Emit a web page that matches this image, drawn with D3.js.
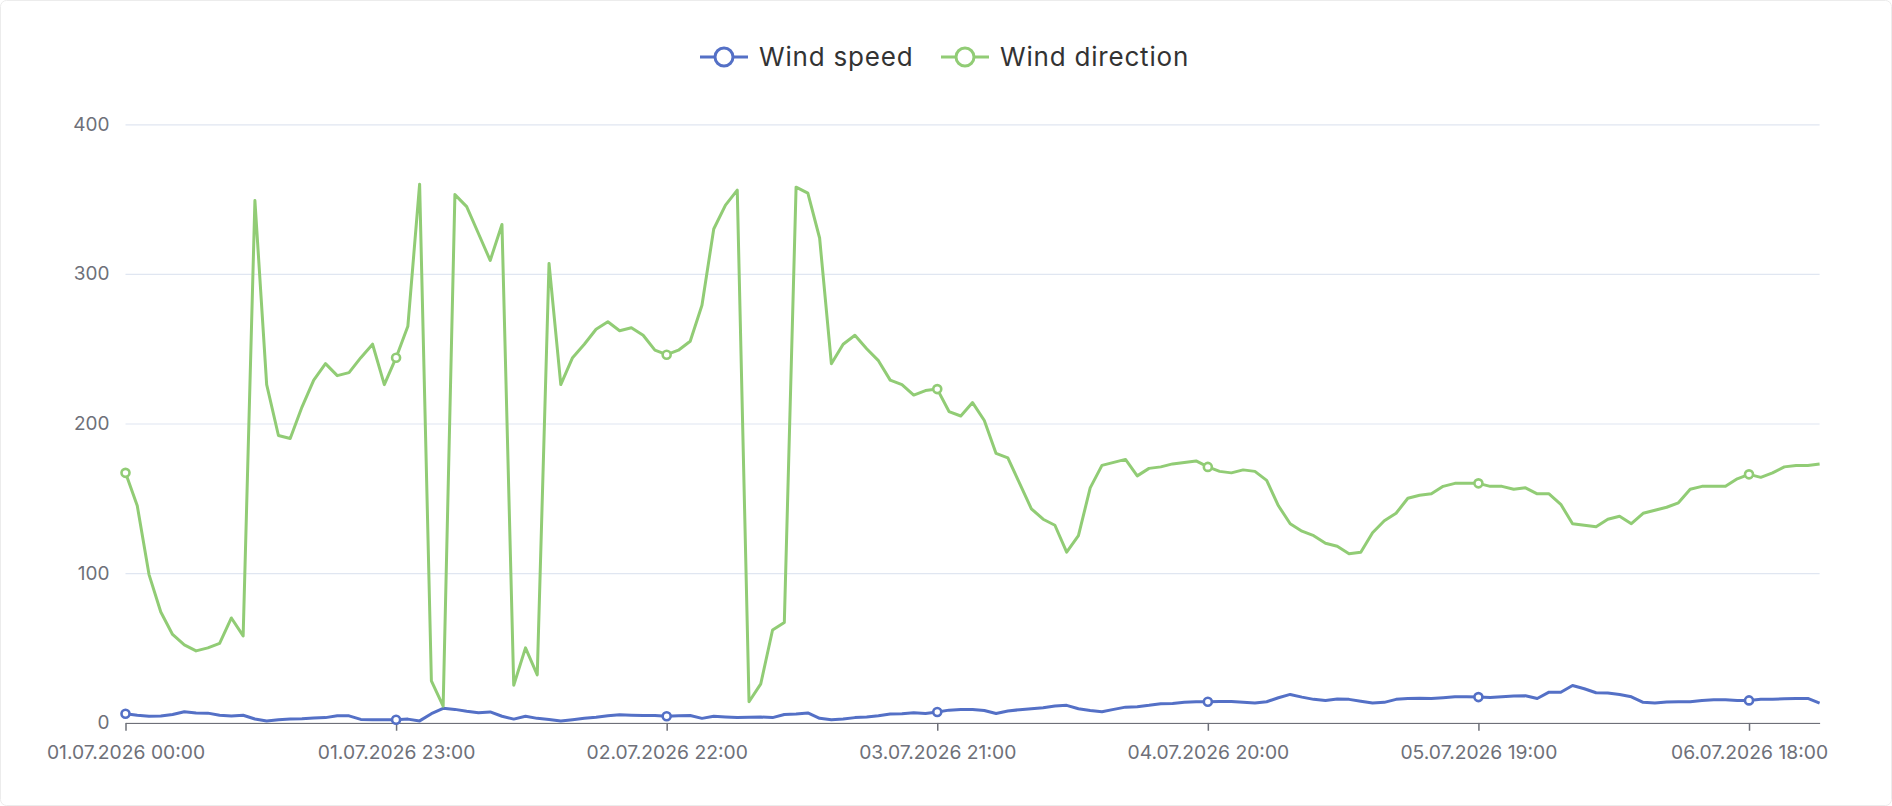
<!DOCTYPE html>
<html><head><meta charset="utf-8">
<script src="https://cdn.jsdelivr.net/npm/d3@7"></script>
<style>
html,body{margin:0;padding:0;background:#fff;}
svg{display:block;font-family:Inter,"Noto Sans",sans-serif;}
</style></head>
<body><svg id="c" width="1892" height="806"></svg>
<script>
const seriesNames = ["Wind speed", "Wind direction"];
const seriesColors = ["#5470C6", "#91CC75"];
const tickLabels = ["01.07.2026 00:00","01.07.2026 23:00","02.07.2026 22:00","03.07.2026 21:00","04.07.2026 20:00","05.07.2026 19:00","06.07.2026 18:00"];
const yTicks = [0,100,200,300,400];
// hourly categories from 01.07.2026 00:00 to 07.07.2026 00:00
const categories = [];
for (let d = 1; d <= 7; d++) for (let h = 0; h < 24; h++) {
  if (d === 7 && h > 0) break;
  categories.push(String(d).padStart(2,"0")+".07.2026 "+String(h).padStart(2,"0")+":00");
}
const windSpeed = [6,5,4.3,4.5,5.5,7.3,6.5,6.4,5,4.5,5,2.5,1.2,2,2.4,2.6,3.1,3.4,4.6,4.6,2.2,2,2,2,2.4,1.2,6,9.6,8.9,7.7,6.7,7.2,4.3,2.4,4.3,2.9,2.2,1.2,2,2.9,3.6,4.6,5.3,5,4.8,4.8,4.3,4.6,4.8,2.9,4.3,3.8,3.4,3.6,3.8,3.4,5.5,5.8,6.5,2.9,2,2.4,3.4,3.8,4.6,5.8,6,6.7,6.2,7.2,8.4,8.9,8.9,8.2,6.2,7.8,8.7,9.3,10,11.1,11.6,9.3,8.2,7.3,8.9,10.4,10.7,11.6,12.7,12.9,13.6,14,14,14.2,14.2,13.6,13.1,14,16.7,18.9,17.1,15.6,14.9,15.8,15.6,14.4,13.1,13.6,15.6,16.2,16.4,16.2,16.7,17.3,17.3,17.1,16.9,17.3,17.8,18,16.2,20.4,20.4,24.9,22.7,20,19.8,18.9,17.3,13.6,13.1,13.8,14,14,14.9,15.3,15.3,14.9,14.9,15.6,15.6,16,16.2,16.2,13.1];
const windDirection = [167,145,99,74,59,52,48,50,53,70,58,349,226,192,190,211,229,240,232,234,244,253,226,244,265,360,28,11,353,345,327,309,333,25,50,32,307,226,244,253,263,268,262,264,259,249,246,249,255,279,330,346,356,14,26,62,67,358,354,324,240,253,259,250,242,229,226,219,222,223,208,205,214,202,180,177,160,143,136,132,114,125,157,172,174,176,165,170,171,173,174,175,171,168,167,169,168,162,145,133,128,125,120,118,113,114,127,135,140,150,152,153,158,160,160,160,158,158,156,157,153,153,146,133,132,131,136,138,133,140,142,144,147,156,158,158,158,163,166,164,167,171,172,172,173];
const labelEvery = 23;

const svg = d3.select("#c");
const W = 1892, H = 806;
const pLeft = 125.5, pRight = 1819.6, pTop = 124.3, pBottom = 722.7;

svg.append("rect").attr("x",0.5).attr("y",0.5).attr("width",W-1).attr("height",H-1)
  .attr("rx",6).attr("fill","#fff").attr("stroke","#ececec");

const x = d3.scalePoint().domain(categories).range([pLeft,pRight]);
const y = d3.scaleLinear().domain([0,400]).range([pBottom,pTop]);

// grid
const gy = svg.append("g").attr("transform",`translate(${pLeft},0)`)
  .call(d3.axisLeft(y).tickValues(yTicks).tickSize(-(pRight-pLeft)).tickPadding(16));
gy.select(".domain").remove();
gy.selectAll(".tick line").attr("stroke","#E0E6F1").attr("stroke-width",1.2)
  .filter(d=>d===0).remove();
gy.selectAll(".tick text").attr("fill","#6E7079").attr("font-size",19).attr("font-family","Inter,sans-serif");

// x axis
svg.append("clipPath").attr("id","xc").append("rect").attr("x",0).attr("y",0).attr("width",1843).attr("height",H);
const tickCats = categories.filter((c,i)=>i%labelEvery===0);
const gx = svg.append("g").attr("transform",`translate(0,${pBottom})`).attr("clip-path","url(#xc)")
  .call(d3.axisBottom(x).tickValues(tickCats).tickSize(8).tickPadding(15).tickSizeOuter(0));
gx.select(".domain").attr("stroke","#6E7079").attr("stroke-width",1.5);
gx.selectAll(".tick line").attr("stroke","#6E7079").attr("stroke-width",1.5);
gx.selectAll(".tick text").attr("fill","#6E7079").attr("font-size",19.3).attr("font-family","Inter,sans-serif")
  .text((d,i)=>tickLabels[i]);

// lines
const data = [windSpeed, windDirection];
data.forEach((vals,si)=>{
  const line = d3.line().x((d,i)=>x(categories[i])).y(d=>y(d));
  svg.append("path").datum(vals).attr("d",line).attr("fill","none")
    .attr("stroke",seriesColors[si]).attr("stroke-width",3).attr("stroke-linejoin","round");
  svg.append("g").selectAll("circle").data(vals.map((v,i)=>({v,i})).filter(d=>d.i%labelEvery===0))
    .join("circle").attr("cx",d=>x(categories[d.i])).attr("cy",d=>y(d.v)).attr("r",4)
    .attr("fill","#fff").attr("stroke",seriesColors[si]).attr("stroke-width",2.6);
});

// legend
const legend = svg.append("g").attr("transform","translate(0,57)");
const items = [{x:700},{x:941}];
items.forEach((it,si)=>{
  const g = legend.append("g").attr("transform",`translate(${it.x},0)`);
  g.append("line").attr("x1",0).attr("x2",48).attr("y1",0).attr("y2",0).attr("stroke",seriesColors[si]).attr("stroke-width",3);
  g.append("circle").attr("cx",24).attr("cy",0).attr("r",9).attr("fill","#fff").attr("stroke",seriesColors[si]).attr("stroke-width",3);
  g.append("text").attr("x",59).attr("y",0).attr("dy","0.35em").attr("font-size",26).attr("letter-spacing",0.8).attr("fill","#333")
    .attr("font-family","Inter,sans-serif").text(seriesNames[si]);
});
</script></body></html>
